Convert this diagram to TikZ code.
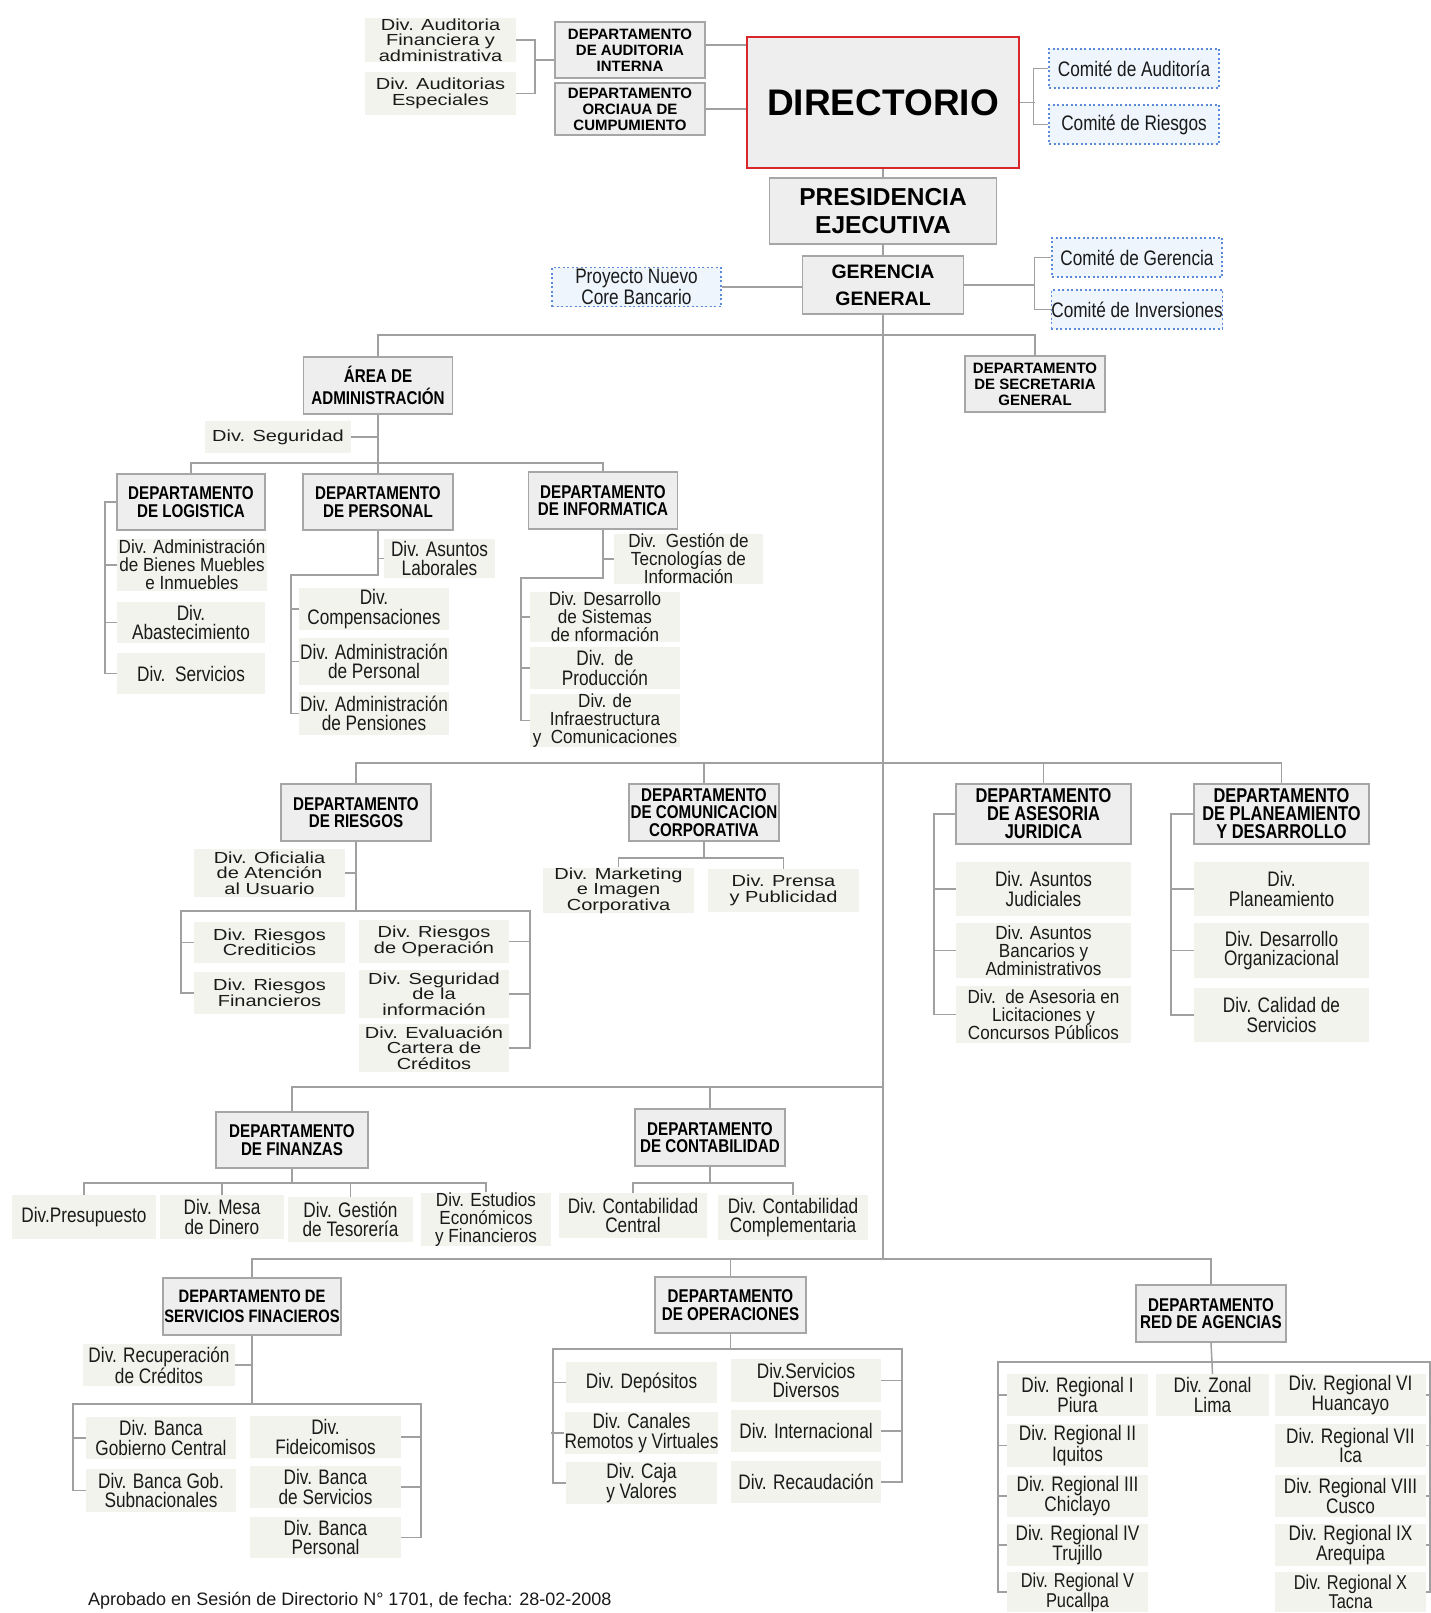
\documentclass[tikz,border=0pt]{standalone}
\usepackage{fontspec}
\setmainfont{Liberation Sans}
\newfontfamily\nrfont[FakeStretch=0.82]{Liberation Sans}
\newfontfamily\nrwfont[FakeStretch=0.9]{Liberation Sans}
\newfontfamily\wdfont[FakeStretch=1.25]{Liberation Sans}
\usepackage{tikz}
\usetikzlibrary{positioning,calc}
\definecolor{linegray}{HTML}{A0A0A0}
\definecolor{deptgray}{HTML}{A6A6A6}
\definecolor{deptfill}{HTML}{EEEEEE}
\definecolor{divfill}{HTML}{F3F3EE}
\definecolor{comfill}{HTML}{EEF5FD}
\definecolor{comblue}{HTML}{5A8AD8}
\definecolor{dirred}{HTML}{D9262B}
\definecolor{txt}{HTML}{1A1A1A}

\begin{document}
\begin{tikzpicture}[x=1pt,y=-1pt,
  wh/.style 2 args = {minimum width=#1pt,minimum height=#2pt},
  dept/.style = {draw=deptgray,fill=deptfill,line width=1.6pt,inner sep=0pt,
  align=center,font=\nrfont\fontsize{18.5}{17.5}\selectfont\bfseries},
  deptlg/.style = {dept,font=\nrfont\fontsize{20}{18}\selectfont\bfseries},
  deptsm/.style = {dept,font=\fontsize{15}{16}\selectfont\bfseries},
  div/.style = {fill=divfill,inner sep=0pt,align=center,text=txt,
  font=\nrfont\fontsize{21}{19.5}\selectfont},
  div3/.style = {div,font=\nrwfont\fontsize{19}{18}\selectfont},
  divw/.style = {div,font=\wdfont\fontsize{16}{15.5}\selectfont},
  com/.style = {draw=comblue,fill=comfill,dash pattern=on 2pt off 2.5pt,
  line width=1.2pt,inner sep=0pt,align=center,text=txt,
  font=\nrfont\fontsize{21}{18}\selectfont},
  link/.style = {draw=linegray,line width=1.5pt}]
 \fill[white] (0,0) rectangle (1430,1613);
 \useasboundingbox (0,0) rectangle (1430,1613);

 % directorio y presidencia
 \node[divw,wh={151}{44}] (audfin) at (440.5,40) {Div. Auditoria\\Financiera y\\administrativa};
 \node[divw,wh={151}{43}] (audesp) at (440.5,93.5) {Div. Auditorias\\Especiales};
 \node[deptsm,wh={150}{56}] (dai) at (630,50) {DEPARTAMENTO\\DE AUDITORIA\\INTERNA};
 \node[deptsm,wh={150}{52}] (doc) at (630,109) {DEPARTAMENTO\\ORCIAUA DE\\CUMPUMIENTO};
 \node[dept,draw=dirred,font=\fontsize{37}{40}\selectfont\bfseries,wh={272}{131}] (dir) at (883,102.5) {DIRECTORIO};
 \node[com,wh={170}{39}] (cau) at (1134,68.5) {Comité de Auditoría};
 \node[com,wh={170}{39}] (cri) at (1134,124.5) {Comité de Riesgos};
 \node[dept,font=\fontsize{24.5}{28}\selectfont\bfseries,wh={227}{66}] (pres) at (883,211) {PRESIDENCIA\\EJECUTIVA};
 \node[dept,font=\fontsize{19.5}{27}\selectfont\bfseries,wh={161}{58}] (ger) at (883,285) {GERENCIA\\GENERAL};
 \node[com,wh={170}{39}] (cge) at (1137,257.5) {Comité de Gerencia};
 \node[com,wh={170}{39}] (cin) at (1137,309.5) {Comité de Inversiones};
 \node[com,wh={169}{39}] (pnc) at (636.5,287) {Proyecto Nuevo\\Core Bancario};
 \node[dept,font=\nrfont\fontsize{18.5}{22}\selectfont\bfseries,wh={149}{57}] (area) at (378,385.5) {ÁREA DE\\ADMINISTRACIÓN};
 \node[deptsm,wh={140}{56}] (dsg) at (1035,384) {DEPARTAMENTO\\DE SECRETARIA\\GENERAL};

 % administracion
 \node[divw,wh={146}{32}] (dseg) at (278,437) {Div. Seguridad};
 \node[dept,wh={148}{56}] (dlog) at (191,502) {DEPARTAMENTO\\DE LOGISTICA};
 \node[dept,wh={150}{56}] (dper) at (378,502) {DEPARTAMENTO\\DE PERSONAL};
 \node[dept,wh={149}{57}] (dinf) at (603,500.5) {DEPARTAMENTO\\DE INFORMATICA};
 \node[div3,wh={150}{52}] (dabm) at (192,565) {Div. Administración\\de Bienes Muebles\\e Inmuebles};
 \node[div,wh={148}{41}] (dabs) at (191,622.5) {Div.\\Abastecimiento};
 \node[div,wh={148}{41}] (dser) at (191,673.5) {Div.\ \ Servicios};
 \node[div,wh={111}{39}] (dalab) at (439.5,558.5) {Div. Asuntos\\Laborales};
 \node[div,wh={150}{42}] (dcomp) at (374,609) {Div.\\Compensaciones};
 \node[div,wh={150}{47}] (dadp) at (374,661.5) {Div. Administración\\de Personal};
 \node[div,wh={150}{43}] (dpen) at (374,713.5) {Div. Administración\\de Pensiones};
 \node[div3,wh={149}{48}] (dgti) at (688.5,559) {Div.\ \ Gestión de\\Tecnologías de\\Información};
 \node[div3,wh={150}{50}] (ddsi) at (605,617) {Div. Desarrollo\\de Sistemas\\de nformación};
 \node[div,wh={150}{42}] (dpro) at (605,668) {Div.\ \ de\\Producción};
 \node[div3,wh={150}{49}] (dinfra) at (605,720.5) {Div. de\\Infraestructura\\y\ \ Comunicaciones};

 % riesgos, comunicacion, asesoria, planeamiento
 \node[dept,wh={150}{57}] (drie) at (356,812.5) {DEPARTAMENTO\\DE RIESGOS};
 \node[divw,wh={151}{48}] (doau) at (269.5,873) {Div. Oficialia\\de Atención\\al Usuario};
 \node[divw,wh={151}{41}] (drcr) at (269.5,942.5) {Div. Riesgos\\Crediticios};
 \node[divw,wh={151}{42}] (drfi) at (269.5,993) {Div. Riesgos\\Financieros};
 \node[divw,wh={150}{43}] (drop) at (434,941.5) {Div. Riesgos\\de Operación};
 \node[divw,wh={150}{48}] (dsin) at (434,994) {Div. Seguridad\\de la\\información};
 \node[divw,wh={150}{48}] (decc) at (434,1048) {Div. Evaluación\\Cartera de\\Créditos};
 \node[dept,wh={150}{57}] (dcc) at (704,812.5) {DEPARTAMENTO\\DE COMUNICACION\\CORPORATIVA};
 \node[divw,wh={151}{43}] (dmic) at (618.5,890.5) {Div. Marketing\\e Imagen\\Corporativa};
 \node[divw,wh={151}{43}] (dpyp) at (783.5,890.5) {Div. Prensa\\y Publicidad};
 \node[deptlg,wh={175}{60}] (daj) at (1043.5,814) {DEPARTAMENTO\\DE ASESORIA\\JURIDICA};
 \node[div,wh={175}{54}] (dajud) at (1043.5,889) {Div. Asuntos\\Judiciales};
 \node[div3,wh={175}{55}] (dabad) at (1043.5,950.5) {Div. Asuntos\\Bancarios y\\Administrativos};
 \node[div3,wh={175}{57}] (dalcp) at (1043.5,1014.5) {Div.\ \ de Asesoria en\\Licitaciones y\\Concursos Públicos};
 \node[deptlg,wh={175}{60}] (dpd) at (1281.5,814) {DEPARTAMENTO\\DE PLANEAMIENTO\\Y DESARROLLO};
 \node[div,wh={175}{54}] (dplan) at (1281.5,889) {Div.\\Planeamiento};
 \node[div,wh={175}{55}] (ddor) at (1281.5,950.5) {Div. Desarrollo\\Organizacional};
 \node[div,wh={175}{54}] (dcds) at (1281.5,1015) {Div. Calidad de\\Servicios};

 % finanzas y contabilidad
 \node[dept,wh={152}{56}] (dfin) at (292,1140) {DEPARTAMENTO\\DE FINANZAS};
 \node[div,wh={144}{44}] (dpre) at (84,1217) {Div.Presupuesto};
 \node[div,wh={124}{44}] (dmdd) at (222,1217) {Div. Mesa\\de Dinero};
 \node[div,wh={125}{45}] (dgte) at (350.5,1219.5) {Div. Gestión\\de Tesorería};
 \node[div3,wh={130}{45}] (deef) at (486,1219.5) {Div. Estudios\\Económicos\\y Financieros};
 \node[dept,wh={150}{57}] (dcon) at (710,1137.5) {DEPARTAMENTO\\DE CONTABILIDAD};
 \node[div,wh={148}{45}] (dccen) at (633,1215.5) {Div. Contabilidad\\Central};
 \node[div,wh={150}{45}] (dccom) at (793,1217.5) {Div. Contabilidad\\Complementaria};

 % servicios financieros, operaciones, agencias
 \node[dept,font=\nrfont\fontsize{18}{20}\selectfont\bfseries,wh={178}{57}] (dsf) at (252,1306.5) {DEPARTAMENTO DE\\SERVICIOS FINACIEROS};
 \node[div,wh={152}{42}] (drdc) at (159,1365) {Div. Recuperación\\de Créditos};
 \node[div,wh={150}{42}] (dbgc) at (161,1438) {Div. Banca\\Gobierno Central};
 \node[div,wh={150}{43}] (dbgs) at (161,1490.5) {Div. Banca Gob.\\Subnacionales};
 \node[div,wh={151}{42}] (dfid) at (325.5,1437) {Div.\\Fideicomisos};
 \node[div,wh={151}{42}] (dbds) at (325.5,1487) {Div. Banca\\de Servicios};
 \node[div,wh={151}{41}] (dbpe) at (325.5,1537.5) {Div. Banca\\Personal};
 \node[dept,wh={151}{56}] (dop) at (730.5,1305) {DEPARTAMENTO\\DE OPERACIONES};
 \node[div,wh={151}{41}] (ddep) at (641.5,1382.5) {Div. Depósitos};
 \node[div,wh={151}{42}] (dcrv) at (641.5,1433) {Div. Canales\\Remotos y Virtuales};
 \node[div,wh={151}{42}] (dcyv) at (641.5,1483) {Div. Caja\\y Valores};
 \node[div,wh={150}{43}] (dsdi) at (806,1380.5) {Div.Servicios\\Diversos};
 \node[div,wh={150}{42}] (dint) at (806,1431) {Div. Internacional};
 \node[div,wh={150}{42}] (drec) at (806,1482) {Div. Recaudación};
 \node[dept,wh={150}{57}] (dra) at (1211,1313.5) {DEPARTAMENTO\\RED DE AGENCIAS};
 \node[div,wh={113}{42}] (dzl) at (1212.5,1395) {Div. Zonal\\Lima};
 \node[div,wh={141}{42}] (dr1) at (1077.5,1395) {Div. Regional I\\Piura};
 \node[div,wh={141}{43}] (dr2) at (1077.5,1445.5) {Div. Regional II\\Iquitos};
 \node[div,wh={141}{42}] (dr3) at (1077.5,1496) {Div. Regional III\\Chiclayo};
 \node[div,wh={141}{42}] (dr4) at (1077.5,1545) {Div. Regional IV\\Trujillo};
 \node[div,font=\nrfont\fontsize{20}{18.5}\selectfont,wh={141}{40}] (dr5) at (1077.5,1592) {Div. Regional V\\Pucallpa};
 \node[div,wh={151}{42}] (dr6) at (1350.5,1395) {Div. Regional VI\\Huancayo};
 \node[div,wh={151}{43}] (dr7) at (1350.5,1445.5) {Div. Regional VII\\Ica};
 \node[div,wh={151}{42}] (dr8) at (1350.5,1496) {Div. Regional VIII\\Cusco};
 \node[div,wh={151}{42}] (dr9) at (1350.5,1545) {Div. Regional IX\\Arequipa};
 \node[div,font=\nrfont\fontsize{20}{18.5}\selectfont,wh={151}{40}] (dr10) at (1350.5,1592) {Div. Regional X\\Tacna};
 \node[anchor=west,inner sep=0pt,text=txt,font=\fontsize{18}{18}\selectfont] (apr) at (88,1601) {Aprobado en Sesión de Directorio N° 1701, de fecha: 28-02-2008};

 % buses
 \coordinate (gk) at (1035,285);
 \coordinate (bus1) at (883,335);
 \coordinate (bus2) at (378,463);
 \coordinate (bus3) at (883,763);
 \coordinate (bus4) at (883,1087);
 \coordinate (bus5) at (883,1259);
 \coordinate (pc) at (378,575);
 \coordinate (ic) at (603,578);
 \coordinate (rbus) at (356,911);
 \coordinate (cbus) at (704,858);
 \coordinate (fbus) at (292,1183);
 \coordinate (kbus) at (710,1183);
 \coordinate (sbus) at (252,1404);
 \coordinate (obus) at (730.5,1349);
 \coordinate (abus) at (1211,1362);

 \begin{scope}[link]
  \draw (audfin.east) -- ++(19,0) |- (audesp.east);
  \draw ([yshift=-10pt]dai.west) -- ++(-20,0);
  \draw ([yshift=5pt]dai.east) -- ([yshift=5pt]dai.east -| dir.west);
  \draw (doc.east) -- (doc.east -| dir.west);
  \draw (dir.east) -- ++(15,0);
  \draw (cau.west) -- ++(-15,0) |- (cri.west);
  \draw (dir.south) -- (pres.north);
  \draw (pres.south) -- (ger.north);
  \draw (pnc.east) -- (pnc.east -| ger.west);
  \draw (ger.east) -- (gk);
  \draw (cge.west) -- ++(-17,0) |- (cin.west);
  \draw (ger.south) -- (bus5);
  \draw (area.north) |- (bus1) -| (dsg.north);
  % administracion
  \draw (area.south) -- (dper.north);
  \draw (dseg.east) -- (dseg.east -| area.south);
  \draw (dlog.north) |- (bus2) -| (dinf.north);
  \draw (dlog.west) -- ++(-11,0) |- (dser.west);
  \draw (dabm.west) -- ++(-11,0);
  \draw (dabs.west) -- ++(-11,0);
  \draw (dper.south) -- (pc) -| ([xshift=-8pt]dpen.west) -- (dpen.west);
  \draw (dalab.west) -- (dalab.west -| dper.south);
  \draw (dcomp.west) -- ++(-8,0);
  \draw (dadp.west) -- ++(-8,0);
  \draw (dinf.south) -- (ic) -| ([xshift=-9pt]dinfra.west) -- (dinfra.west);
  \draw (dgti.west) -- (dgti.west -| dinf.south);
  \draw (ddsi.west) -- ++(-9,0);
  \draw (dpro.west) -- ++(-9,0);
  % riesgos a planeamiento
  \draw (drie.north) |- (bus3) -| (dpd.north);
  \draw (dcc.north) -- (dcc.north |- bus3);
  \draw (daj.north) -- (daj.north |- bus3);
  \draw (drie.south) -- (rbus);
  \draw (doau.east) -- (doau.east -| drie.south);
  \draw (drfi.west) -- ++(-13,0) |- (rbus) -| ([xshift=21pt]decc.east) -- (decc.east);
  \draw (drcr.west) -- ++(-13,0);
  \draw (drop.east) -- ++(21,0);
  \draw (dsin.east) -- ++(21,0);
  \draw (dcc.south) -- (cbus);
  \draw (dmic.north) |- (cbus) -| (dpyp.north);
  \draw (daj.west) -- ++(-21,0) |- (dalcp.west);
  \draw (dajud.west) -- ++(-21,0);
  \draw (dabad.west) -- ++(-21,0);
  \draw (dpd.west) -- ++(-22,0) |- (dcds.west);
  \draw (dplan.west) -- ++(-22,0);
  \draw (ddor.west) -- ++(-22,0);
  % finanzas y contabilidad
  \draw (dfin.north) |- (bus4);
  \draw (dcon.north) -- (dcon.north |- bus4);
  \draw (dfin.south) -- (fbus);
  \draw (dpre.north) |- (fbus) -| (deef.north);
  \draw (dmdd.north) -- (dmdd.north |- fbus);
  \draw (dgte.north) -- (dgte.north |- fbus);
  \draw (dcon.south) -- (kbus);
  \draw (dccen.north) |- (kbus) -| (dccom.north);
  % servicios, operaciones, agencias
  \draw (dsf.north) |- (bus5) -| (dra.north);
  \draw (dop.north) -- (dop.north |- bus5);
  \draw (dsf.south) -- (sbus);
  \draw (drdc.east) -- (drdc.east -| dsf.south);
  \draw (dbgs.west) -- ++(-13,0) |- (sbus) -| ([xshift=20pt]dbpe.east) -- (dbpe.east);
  \draw (dbgc.west) -- ++(-13,0);
  \draw (dfid.east) -- ++(20,0);
  \draw (dbds.east) -- ++(20,0);
  \draw (dop.south) -- (obus);
  \draw (dcyv.west) -- ++(-13,0) |- (obus) -| ([xshift=21pt]drec.east) -- (drec.east);
  \draw (ddep.west) -- ++(-13,0);
  \draw (dcrv.west) -- ++(-13,0);
  \draw (dsdi.east) -- ++(21,0);
  \draw (dint.east) -- ++(21,0);
  \draw (dra.south) -- (dzl.north);
  \draw (dr5.west) -- ++(-9,0) |- (abus) -| ([xshift=4pt]dr10.east) -- (dr10.east);
  \draw (dr1.west) -- ++(-9,0);
  \draw (dr2.west) -- ++(-9,0);
  \draw (dr3.west) -- ++(-9,0);
  \draw (dr4.west) -- ++(-9,0);
  \draw (dr6.east) -- ++(4,0);
  \draw (dr7.east) -- ++(4,0);
  \draw (dr8.east) -- ++(4,0);
  \draw (dr9.east) -- ++(4,0);
 \end{scope}
\end{tikzpicture}
\end{document}
